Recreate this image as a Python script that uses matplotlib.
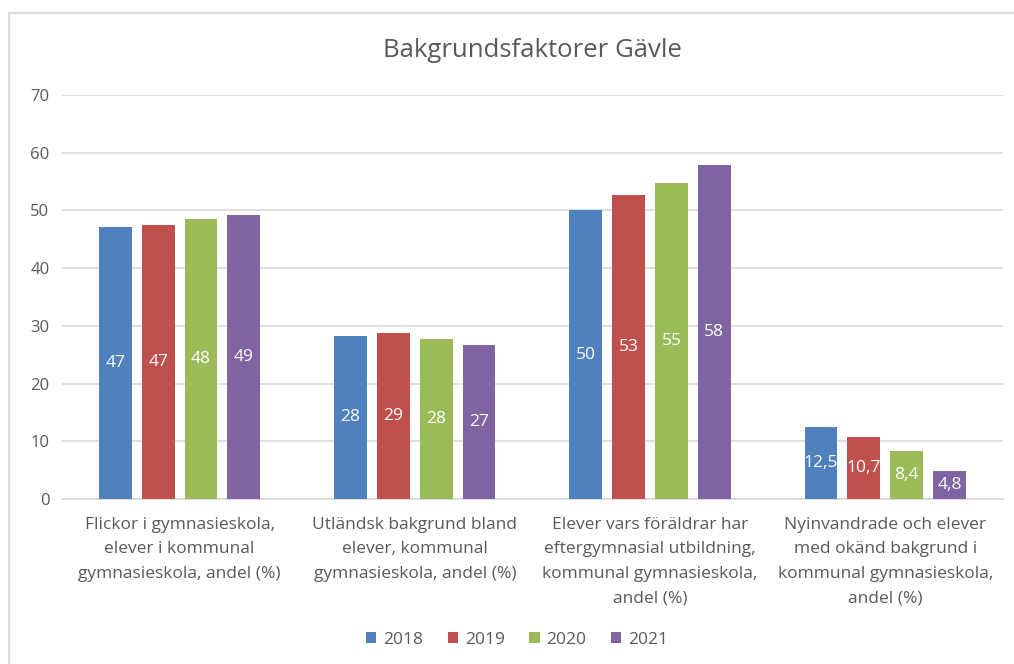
import matplotlib.pyplot as plt
import numpy as np

plt.rcParams['font.family'] = ['Open Sans', 'DejaVu Sans']

kategorier = ['Flickor i gymnasieskola,\nelever i kommunal\ngymnasieskola, andel (%)',
              'Utländsk bakgrund bland\nelever, kommunal\ngymnasieskola, andel (%)',
              'Elever vars föräldrar har\neftergymnasial utbildning,\nkommunal gymnasieskola,\nandel (%)',
              'Nyinvandrade och elever\nmed okänd bakgrund i\nkommunal gymnasieskola,\nandel (%)']
ar = ['2018', '2019', '2020', '2021']
v2018 = [47.2, 28.3, 50.0, 12.5]
v2019 = [47.4, 28.7, 52.7, 10.7]
v2020 = [48.5, 27.7, 54.8, 8.4]
v2021 = [49.2, 26.6, 57.9, 4.8]
etiketter = [['47', '28', '50', '12,5'],
             ['47', '29', '53', '10,7'],
             ['48', '28', '55', '8,4'],
             ['49', '27', '58', '4,8']]
farger = ['#4f81bd', '#c0504d', '#9bbb59', '#8064a2']
gra = '#595959'

fig = plt.figure(figsize=(10.14, 6.64), dpi=100)
ax = fig.add_axes([0.0611, 0.2485, 0.9279, 0.6085])

# ram runt diagrammet
fig.add_artist(plt.Rectangle((9 / 1014, -0.05), 1.1, 1 - 12.5 / 664 + 0.05,
                             transform=fig.transFigure, fill=False,
                             edgecolor='#d9d9d9', linewidth=1.5))

x = np.arange(len(kategorier))
bredd = 0.14
steg = 0.182
serier = [v2018, v2019, v2020, v2021]
for i, s in enumerate(serier):
    pos = x + (i - 1.5) * steg
    ax.bar(pos, s, bredd, color=farger[i], label=ar[i], zorder=3)
    for p, v, t in zip(pos, s, etiketter[i]):
        ax.text(p, v / 2, t, ha='center', va='center', color='white',
                fontsize=12.5, zorder=4)

ax.set_xlim(-0.5, 3.5)
ax.set_ylim(0, 70)
ax.set_yticks(range(0, 71, 10))
ax.yaxis.grid(True, color='#d9d9d9', linewidth=1.2, zorder=0)
for sp in ['top', 'right', 'left']:
    ax.spines[sp].set_visible(False)
ax.spines['bottom'].set_color('#d9d9d9')
ax.spines['bottom'].set_linewidth(1.2)
ax.tick_params(axis='y', length=0, labelcolor=gra, labelsize=12, pad=9)
ax.tick_params(axis='x', length=0, labelcolor=gra, labelsize=12.5, pad=13)
ax.set_xticks(x)
ax.set_xticklabels(kategorier, linespacing=1.7)

ax.set_title('Bakgrundsfaktorer Gävle', fontsize=18.5, color=gra, pad=27)

fig.legend(loc='center', bbox_to_anchor=(0.51, 0.036), ncol=4, frameon=False,
           fontsize=12.5, labelcolor=gra, handlelength=0.6, handleheight=0.6,
           handletextpad=0.4, columnspacing=1.4)

fig.savefig('out.png', dpi=100)
